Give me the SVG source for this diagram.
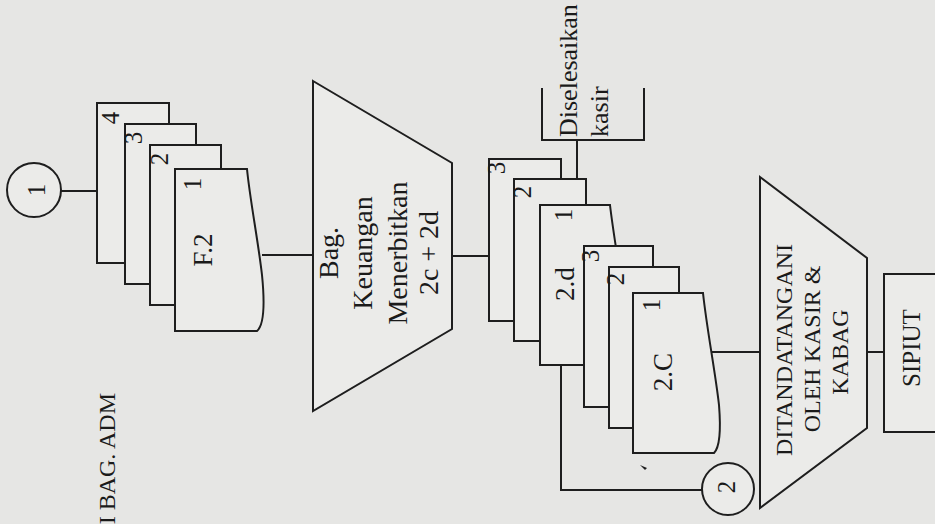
<svg xmlns="http://www.w3.org/2000/svg" width="935" height="524" viewBox="0 0 935 524">
<style>
.s{fill:#ebebe9;stroke:#1e1e1e;stroke-width:2;stroke-linejoin:miter}
.c{fill:none;stroke:#1e1e1e;stroke-width:2}
.t{font-family:"Liberation Serif","Times New Roman",serif;fill:#1a1a1a}
.m{text-anchor:middle}
.n{font-size:25px}
</style>
<rect x="0" y="0" width="935" height="524" fill="#e6e6e4"/>

<g id="connectors">
<line class="c" x1="61" y1="191" x2="97" y2="191"/>
<line class="c" x1="262" y1="255" x2="313" y2="255"/>
<line class="c" x1="452" y1="256" x2="489" y2="256"/>
<line class="c" x1="577" y1="140" x2="577" y2="179"/>
<polyline class="c" points="561,365 561,490 702,490"/>
<line class="c" x1="710" y1="352" x2="760" y2="352"/>
<line class="c" x1="867" y1="352" x2="885" y2="352"/>
</g>

<g id="title">
<text class="t" font-size="24" text-anchor="end" transform="translate(115,393) rotate(-90)">I BAG. ADM</text>
</g>

<g id="conn1">
<circle class="s" cx="34" cy="190" r="27"/>
<text class="t m n" transform="translate(45,190) rotate(-90)">1</text>
</g>

<g id="docF2">
<rect class="s" x="97" y="103" width="72" height="160"/>
<text class="t m n" transform="translate(119,118) rotate(-90)">4</text>
<rect class="s" x="125" y="124" width="71" height="160"/>
<text class="t m n" transform="translate(142,138) rotate(-90)">3</text>
<rect class="s" x="150" y="145" width="71" height="160"/>
<text class="t m n" transform="translate(168,159) rotate(-90)">2</text>
<path class="s" d="M175,169 H247 C250,200 258,240 262,275 C265,305 264,325 257,331 H175 Z"/>
<text class="t m n" transform="translate(201,184) rotate(-90)">1</text>
<text class="t m" font-size="27" transform="translate(212,250) rotate(-90)">F.2</text>
</g>

<g id="proc1">
<polygon class="s" points="313,81 452,163 452,329 313,411"/>
<text class="t m" font-size="28" transform="translate(338,253) rotate(-90)">Bag.</text>
<text class="t m" font-size="28" transform="translate(372,253) rotate(-90)">Keuangan</text>
<text class="t m" font-size="28" transform="translate(407,253) rotate(-90)">Menerbitkan</text>
<text class="t m" font-size="28" transform="translate(438,253) rotate(-90)">2c + 2d</text>
</g>

<g id="kasir">
<polyline class="c" points="542,88 542,140 644,140 644,88"/>
<text class="t" font-size="26" transform="translate(577,137) rotate(-90)">Diselesaikan</text>
<text class="t" font-size="26" transform="translate(608,137) rotate(-90)">kasir</text>
</g>

<g id="doc2d">
<rect class="s" x="489" y="159" width="72" height="162"/>
<text class="t m n" transform="translate(505,168) rotate(-90)">3</text>
<rect class="s" x="514" y="179" width="72" height="162"/>
<text class="t m n" transform="translate(531,192) rotate(-90)">2</text>
<path class="s" d="M540,205 H610 C614,240 622,280 626,320 C628,345 626,360 620,365 H540 Z"/>
<text class="t m n" transform="translate(572,215) rotate(-90)">1</text>
<text class="t m" font-size="27" transform="translate(574,284) rotate(-90)">2.d</text>
</g>

<g id="doc2c">
<rect class="s" x="584" y="246" width="69" height="161"/>
<text class="t m n" transform="translate(599,256) rotate(-90)">3</text>
<rect class="s" x="609" y="267" width="70" height="161"/>
<text class="t m n" transform="translate(624,279) rotate(-90)">2</text>
<path class="s" d="M633,293 H703 C707,330 715,370 719,405 C721,430 720,447 714,453 H633 Z"/>
<text class="t m n" transform="translate(660,305) rotate(-90)">1</text>
<text class="t m" font-size="27" transform="translate(672,372) rotate(-90)">2.C</text>
<path d="M640,465 l7,3 l-2,2 z" fill="#1e1e1e"/>
</g>

<g id="conn2">
<circle class="s" cx="728" cy="489" r="26"/>
<text class="t m n" transform="translate(735,487) rotate(-90)">2</text>
</g>

<g id="proc2">
<polygon class="s" points="760,177 867,258 867,428 760,508"/>
<text class="t m" font-size="24" transform="translate(792,350) rotate(-90)">DITANDATANGANI</text>
<text class="t m" font-size="24" transform="translate(820,349) rotate(-90)">OLEH KASIR &amp;</text>
<text class="t m" font-size="24" transform="translate(848,352) rotate(-90)">KABAG</text>
</g>

<g id="sipiut">
<rect class="s" x="884" y="274" width="60" height="158"/>
<text class="t m" font-size="25" transform="translate(920,348) rotate(-90)">SIPIUT</text>
</g>
</svg>
